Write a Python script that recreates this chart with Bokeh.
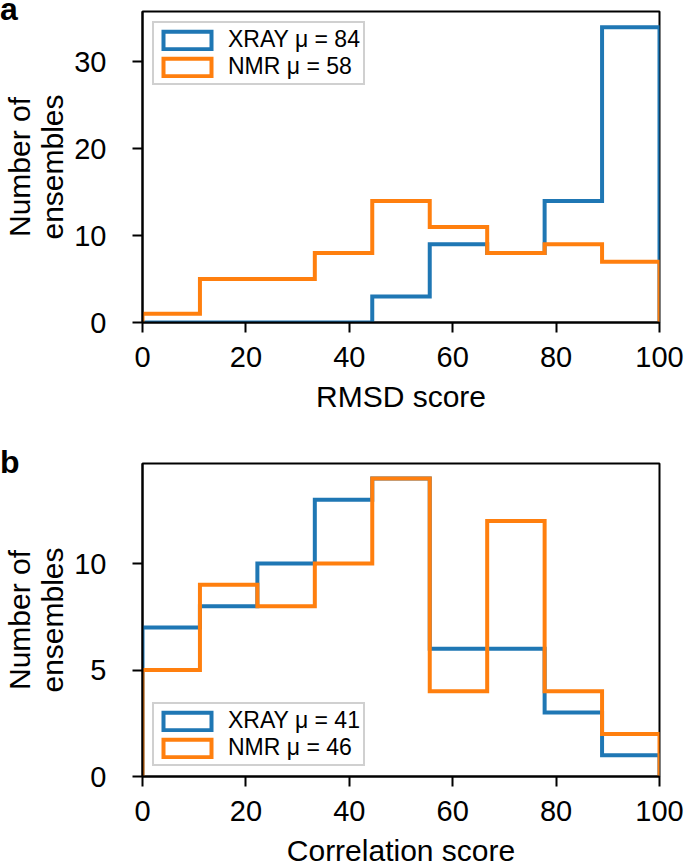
from bokeh.plotting import figure
from bokeh.models import Range1d, FixedTicker, Legend, LegendItem, Div
from bokeh.layouts import column
from bokeh.embed import file_html
from bokeh.resources import INLINE

# ---------------- data ----------------
bin_edges = [0, 11.11, 22.22, 33.33, 44.44, 55.56, 66.67, 77.78, 88.89, 100]
rmsd_xray = [0, 0, 0, 0, 3, 9, 8, 14, 34]
rmsd_nmr = [1, 5, 5, 8, 14, 11, 8, 9, 7]
corr_xray = [7, 8, 10, 13, 14, 6, 6, 3, 1]
corr_nmr = [5, 9, 8, 10, 14, 4, 12, 4, 2]
series_names = ["XRAY", "NMR"]
rmsd_means = [84, 58]
corr_means = [41, 46]
x_ticks = [0, 20, 40, 60, 80, 100]
rmsd_y_ticks = [0, 10, 20, 30]
corr_y_ticks = [0, 5, 10]
panel_letters = ["a", "b"]

BLUE = "#1f77b4"
ORANGE = "#ff7f0e"
FONT = "Liberation Sans"
W = 685
FRAME_W = 517
LEFT = 142


def step_xy(edges, counts):
    xs = [edges[0]]
    ys = [0]
    for i, c in enumerate(counts):
        xs += [edges[i], edges[i + 1]]
        ys += [c, c]
    xs.append(edges[-1])
    ys.append(0)
    return xs, ys


def make_panel(height, top, frame_h, ymax, yticks, xray, nmr, means, xlabel,
               legend_loc):
    bottom = height - top - frame_h
    p = figure(width=W, height=height, x_range=Range1d(0, 100),
               y_range=Range1d(0, ymax), output_backend="svg",
               toolbar_location=None, min_border_left=LEFT,
               min_border_right=W - LEFT - FRAME_W, min_border_top=top,
               min_border_bottom=bottom)
    p.xgrid.visible = False
    p.ygrid.visible = False
    p.outline_line_color = "black"
    p.outline_line_width = 2
    p.outline_line_alpha = 1
    p.background_fill_color = "white"
    p.border_fill_color = None
    p.xaxis.ticker = FixedTicker(ticks=x_ticks)
    p.yaxis.ticker = FixedTicker(ticks=yticks)
    for ax in (p.xaxis, p.yaxis):
        ax.axis_line_color = "black"
        ax.axis_line_width = 2
        ax.major_tick_out = 10
        ax.major_tick_in = 0
        ax.major_tick_line_width = 2
        ax.major_tick_line_color = "black"
        ax.minor_tick_out = 0
        ax.minor_tick_in = 0
        ax.major_label_text_font = FONT
        ax.major_label_text_font_size = "29px"
        ax.major_label_text_color = "black"
        ax.axis_label_text_font = FONT
        ax.axis_label_text_font_size = "30px"
        ax.axis_label_text_font_style = "normal"
        ax.axis_label_text_color = "black"
    p.xaxis.major_label_standoff = 14
    p.yaxis.major_label_standoff = 26
    p.xaxis.axis_label = xlabel
    p.xaxis.axis_label_standoff = 10
    p.yaxis.axis_label = "Number of\nensembles"
    p.yaxis.axis_label_standoff = 2
    p.yaxis.axis_label_text_line_height = 1.0

    xb, yb = step_xy(bin_edges, xray)
    xo, yo = step_xy(bin_edges, nmr)
    p.line(xb, yb, line_color=BLUE, line_width=4, line_join="miter")
    p.line(xo, yo, line_color=ORANGE, line_width=4, line_join="miter")

    # legend proxies (outlined rectangles, nothing drawn in the frame)
    nan = [float("nan")]
    rq_b = p.quad(left=nan, right=nan, top=nan, bottom=nan, fill_alpha=0,
                  line_color=BLUE, line_width=4, line_join="miter")
    rq_o = p.quad(left=nan, right=nan, top=nan, bottom=nan, fill_alpha=0,
                  line_color=ORANGE, line_width=4, line_join="miter")
    items = [
        LegendItem(label=f"{series_names[0]} μ = {means[0]}", renderers=[rq_b]),
        LegendItem(label=f"{series_names[1]} μ = {means[1]}", renderers=[rq_o]),
    ]
    leg = Legend(items=items, location=legend_loc, margin=10, padding=3,
                 spacing=0, glyph_width=60, glyph_height=22, label_height=22,
                 label_standoff=11, label_text_font=FONT,
                 label_text_font_size="23px", label_text_color="black",
                 border_line_color="#d0d0d0", border_line_width=2,
                 border_line_alpha=1, background_fill_color="white",
                 background_fill_alpha=1)
    p.add_layout(leg)
    return p


def letter_div(letter, pad_top):
    html = (f'<div style="font-family:\'{FONT}\';font-weight:bold;'
            f'font-size:32px;line-height:18px;margin:0;'
            f'padding:{pad_top}px 0 0 0;color:black">{letter}</div>')
    return Div(text=html, width=40, height=50, margin=(0, 0, -50, 0))


pa = make_panel(440, 11, 311, 35.8, rmsd_y_ticks, rmsd_xray, rmsd_nmr,
                rmsd_means, "RMSD score", "top_left")
pb = make_panel(440, 23, 313, 14.7, corr_y_ticks, corr_xray, corr_nmr,
                corr_means, "Correlation score", "bottom_left")

layout = column(letter_div(panel_letters[0], 0), pa,
                letter_div(panel_letters[1], 13), pb, spacing=0)
open("out.html", "w").write(file_html(layout, INLINE))
